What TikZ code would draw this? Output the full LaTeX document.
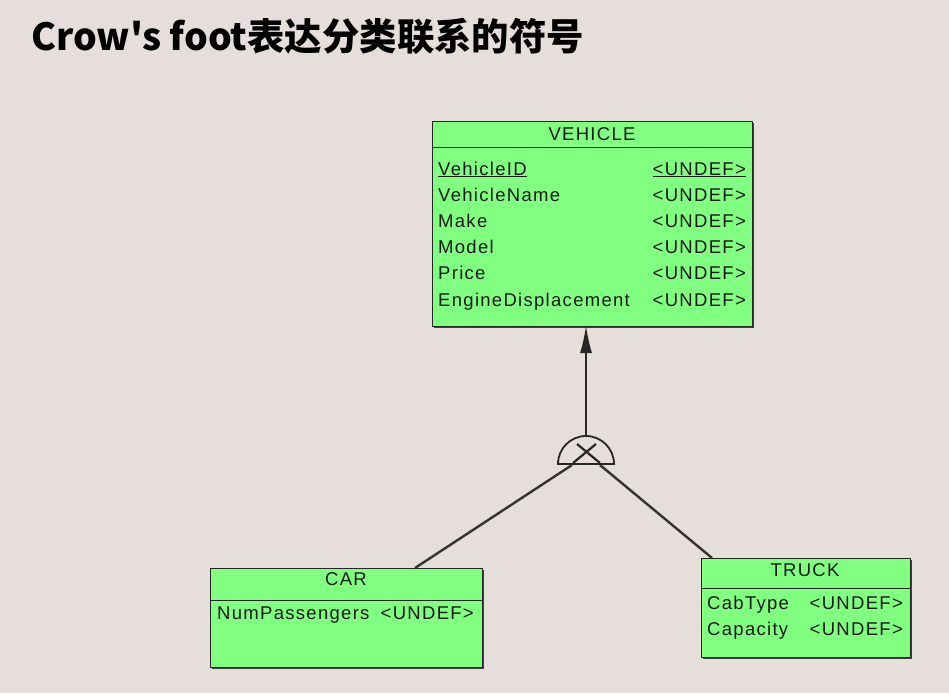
\documentclass[tikz,border=0pt]{standalone}
\usepackage{fontspec}
\setmainfont{Liberation Sans}
\newfontfamily\erfont[LetterSpace=7]{Liberation Sans}
\newfontfamily\cjk{Noto Sans CJK SC}
\usetikzlibrary{positioning,arrows.meta}
\definecolor{ergreen}{RGB}{128,255,128}
\definecolor{stonebg}{RGB}{230,222,219}

\begin{document}
\begin{tikzpicture}[x=1pt,y=-1pt,
    entity/.style={draw=black!85, fill=ergreen, line width=.9pt, anchor=north west, inner sep=0pt, outer sep=0pt},
    shadowbox/.style={fill=black!75, anchor=north west, inner sep=0pt, outer sep=0pt},
    attr/.style={font=\erfont\fontsize{18.5}{21}\selectfont, text=black!90, inner sep=0pt, anchor=base west},
    undef/.style={attr, anchor=base east},
    head/.style={attr, anchor=base},
    link/.style={draw=black!80, line width=2.4pt}]
      % background
      \fill[stonebg] (0,0) rectangle (949,693);
      \useasboundingbox (0,0) rectangle (949,693);
      \node[font=\cjk\bfseries\fontsize{37.4}{40}\selectfont, anchor=base west, inner sep=0pt] (title) at (31,50) {Crow's foot表达分类联系的符号};

      % VEHICLE
      \node[shadowbox, minimum width=320pt, minimum height=205pt] at (434,123) {};
      \node[entity, minimum width=320pt, minimum height=205pt] (veh) at (432,121) {};
      \draw[black!85, line width=.9pt] (veh.west |- 0,147) -- (veh.east |- 0,147);
      \node[head] (vehname) at (592,140.5) {VEHICLE};
      \node[attr] (v0) at (438,175) {\underline{VehicleID}};
      \node[undef] (t0) at (746,175) {\underline{<UNDEF>}};
      \foreach \a [count=\i] in {VehicleName,Make,Model,Price,EngineDisplacement}{
        \node[attr] (v\i) at (438,175+26.2*\i) {\a};
        \node[undef] (t\i) at (746,175+26.2*\i) {<UNDEF>};
      }

      % CAR
      \node[shadowbox, minimum width=272pt, minimum height=99pt] at (212,570) {};
      \node[entity, minimum width=272pt, minimum height=99pt] (car) at (210,568) {};
      \draw[black!85, line width=.9pt] (car.west |- 0,600) -- (car.east |- 0,600);
      \node[head] (carname) at (346,585.5) {CAR};
      \node[attr] (c1) at (217,619.5) {NumPassengers};
      \node[undef] (ct1) at (474,619.5) {<UNDEF>};

      % TRUCK
      \node[shadowbox, minimum width=209pt, minimum height=99pt] at (703,560) {};
      \node[entity, minimum width=209pt, minimum height=99pt] (truck) at (701,558) {};
      \draw[black!85, line width=.9pt] (truck.west |- 0,588) -- (truck.east |- 0,588);
      \node[head] (truckname) at (805,576.5) {TRUCK};
      \node[attr] (k1) at (707,609.5) {CabType};
      \node[undef] (kt1) at (903,609.5) {<UNDEF>};
      \node[attr] (k2) at (707,635.5) {Capacity};
      \node[undef] (kt2) at (903,635.5) {<UNDEF>};

      % subtype symbol
      \coordinate (sub) at (586,464);
      \coordinate (subtop) at (586,436);
      \coordinate (subl) at (572,465);
      \coordinate (subr) at (600,465);
      \draw[black!85, line width=1.8pt] (sub) ++(-28,0) arc[start angle=180, end angle=360, radius=28] -- cycle;
      \draw[black!85, line width=2.4pt] (sub) ++(-14,0) -- ++(28,0);
      \draw[black!85, line width=2.2pt] (sub) ++(-9,-20) -- ++(23,19) (sub) ++(10,-20) -- ++(-23,19);
      \draw[black!85, line width=1.3pt, -{Latex[length=27pt,width=12pt]}] (subtop) -- (subtop |- veh.south);
      \draw[link] (subl) -- ([xshift=205pt]car.north west);
      \draw[link] (subr) -- ([xshift=11pt]truck.north west);
    \end{tikzpicture}
\end{document}
